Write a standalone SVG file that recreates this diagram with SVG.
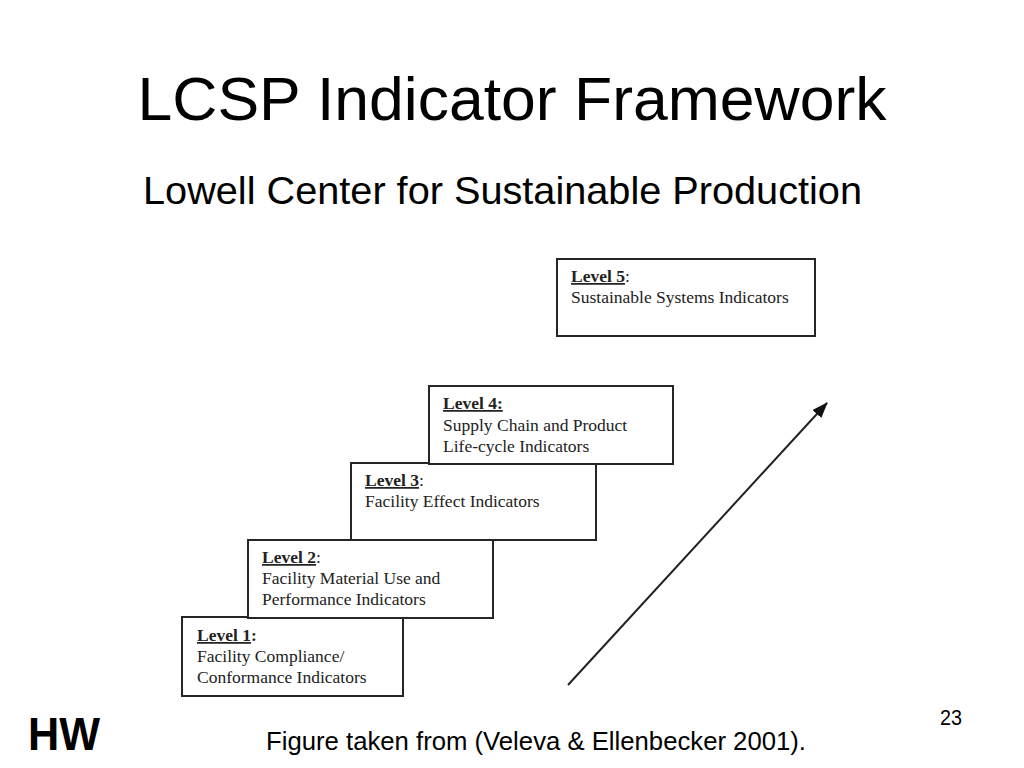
<svg xmlns="http://www.w3.org/2000/svg" width="1024" height="768" viewBox="0 0 1024 768">
<style>
.title{font-family:"Liberation Sans",Arial,sans-serif;fill:#000}
.box{fill:#fff;stroke:#262626;stroke-width:2}
.bt{font-family:"Liberation Serif","Times New Roman",serif;font-size:17.5px;fill:#222}
.lv{font-weight:bold;text-decoration:underline}
.b{font-weight:bold}
.conn{stroke:#222;stroke-width:2;fill:none}
</style>
<defs>
<marker id="ah" markerWidth="16" markerHeight="12" refX="15" refY="6" orient="auto" markerUnits="userSpaceOnUse" viewBox="0 0 16 12">
<path d="M0,0 L16,6 L0,12 Z" fill="#111"/>
</marker>
</defs>
<rect width="1024" height="768" fill="#fff"/>
<text class="title" x="512" y="120" font-size="62" text-anchor="middle" textLength="749" lengthAdjust="spacingAndGlyphs">LCSP Indicator Framework</text>
<text class="title" x="143" y="204" font-size="39.5" textLength="719" lengthAdjust="spacingAndGlyphs">Lowell Center for Sustainable Production</text>

<g id="level1">
<rect class="box" x="182" y="617" width="221" height="79"/>
<text class="bt" x="197" y="641"><tspan class="lv">Level 1</tspan><tspan class="b">:</tspan></text>
<text class="bt" x="197" y="662">Facility Compliance/</text>
<text class="bt" x="197" y="683">Conformance Indicators</text>
</g>
<g id="level2">
<rect class="box" x="248" y="540" width="245" height="78"/>
<text class="bt" x="262" y="563"><tspan class="lv">Level 2</tspan>:</text>
<text class="bt" x="262" y="584">Facility Material Use and</text>
<text class="bt" x="262" y="605">Performance Indicators</text>
</g>
<g id="level3">
<rect class="box" x="351" y="463" width="245" height="77"/>
<text class="bt" x="365" y="486"><tspan class="lv">Level 3</tspan>:</text>
<text class="bt" x="365" y="507">Facility Effect Indicators</text>
</g>
<g id="level4">
<rect class="box" x="429" y="386" width="244" height="78"/>
<text class="bt" x="443" y="409"><tspan class="lv">Level 4:</tspan></text>
<text class="bt" x="443" y="431">Supply Chain and Product</text>
<text class="bt" x="443" y="452">Life-cycle Indicators</text>
</g>
<g id="level5">
<rect class="box" x="557" y="259" width="258" height="77"/>
<text class="bt" x="571" y="282"><tspan class="lv">Level 5</tspan>:</text>
<text class="bt" x="571" y="303">Sustainable Systems Indicators</text>
</g>

<g id="connectors">
<line class="conn" x1="568" y1="685" x2="827" y2="403" marker-end="url(#ah)"/>
</g>

<text class="title" x="28" y="750" font-size="46" font-weight="bold" textLength="72" lengthAdjust="spacingAndGlyphs">HW</text>
<text class="title" x="266" y="750" font-size="26" textLength="540" lengthAdjust="spacingAndGlyphs">Figure taken from (Veleva &amp; Ellenbecker 2001).</text>
<text class="title" x="940" y="725" font-size="22" textLength="22" lengthAdjust="spacingAndGlyphs">23</text>
</svg>
